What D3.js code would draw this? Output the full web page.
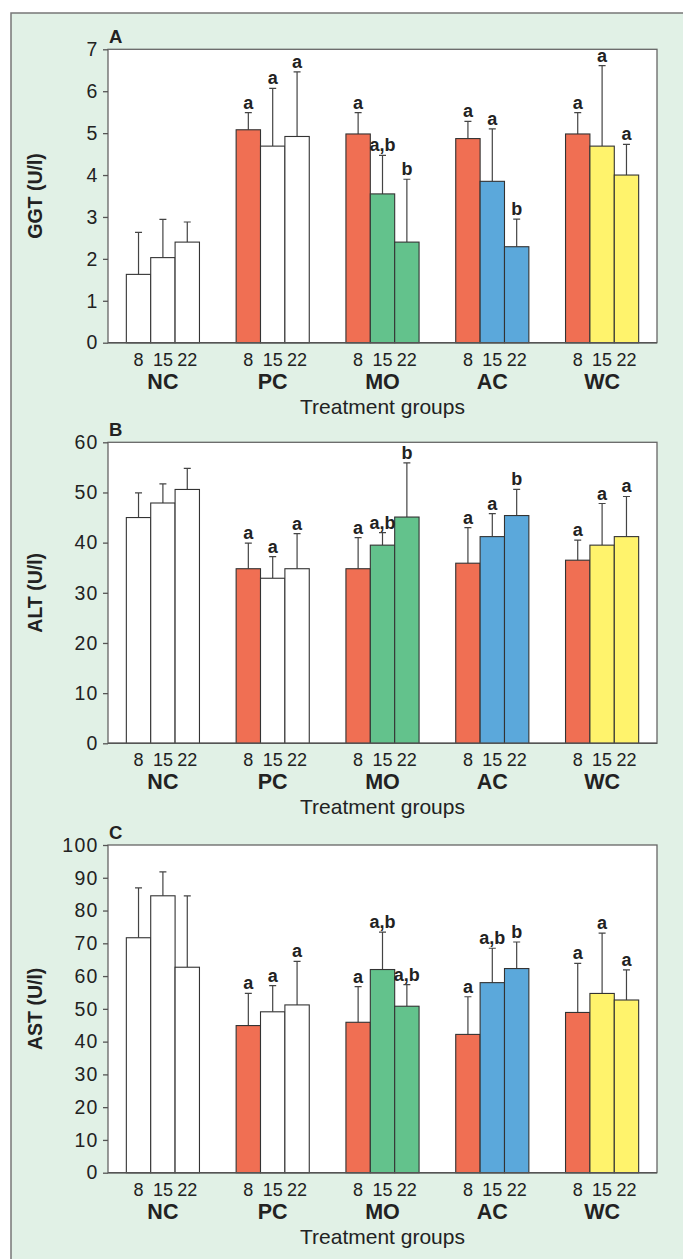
<!DOCTYPE html>
<meta charset="utf-8">
<style>
body { margin: 0; }
svg { font-family: "Liberation Sans", Arial, sans-serif; display: block; }
.axis line { stroke: #555; stroke-width: 1.3; }
.frame { fill: #fff; stroke: #666; stroke-width: 1.3; }
.bar { stroke: #333; stroke-width: 1.1; }
.err { stroke: #444; stroke-width: 1.2; }
.sig { font-size: 18px; font-weight: bold; fill: #222; text-anchor: middle; }
.day { font-size: 18px; fill: #222; text-anchor: middle; }
.grp { font-size: 21.5px; font-weight: bold; fill: #222; text-anchor: middle; }
.xtitle { font-size: 21px; fill: #222; text-anchor: middle; }
.ytitle { font-size: 19.5px; font-weight: bold; fill: #222; text-anchor: middle; }
.letter { font-size: 18.5px; font-weight: bold; fill: #222; }
</style>
<body>
<script src="https://cdn.jsdelivr.net/npm/d3@7"></script>
<script>

var groups = ["NC", "PC", "MO", "AC", "WC"],
    days = ["8", "15", "22"];

// GGT (U/l), panel A
var ggtMean = [[1.63, 2.03, 2.40], [5.08, 4.69, 4.92], [4.98, 3.55, 2.40], [4.87, 3.85, 2.29], [4.98, 4.69, 4.00]];
var ggtTop  = [[2.63, 2.94, 2.88], [5.49, 6.07, 6.46], [5.49, 4.47, 3.90], [5.28, 5.10, 2.95], [5.49, 6.61, 4.73]];
var ggtSig  = [["", "", ""], ["a", "a", "a"], ["a", "a,b", "b"], ["a", "a", "b"], ["a", "a", "a"]];

// ALT (U/l), panel B
var altMean = [[45.0, 47.9, 50.6], [34.8, 32.9, 34.8], [34.8, 39.5, 45.1], [35.9, 41.2, 45.4], [36.5, 39.5, 41.2]];
var altTop  = [[49.9, 51.7, 54.8], [39.9, 37.2, 41.8], [41.0, 42.0, 55.9], [43.0, 45.8, 50.6], [40.5, 47.8, 49.2]];
var altSig  = [["", "", ""], ["a", "a", "a"], ["a", "a,b", "b"], ["a", "a", "b"], ["a", "a", "a"]];

// AST (U/l), panel C
var astMean = [[71.7, 84.5, 62.7], [44.9, 49.1, 51.2], [45.9, 62.0, 50.8], [42.2, 58.0, 62.3], [48.9, 54.7, 52.7]];
var astTop  = [[86.9, 91.8, 84.5], [54.7, 57.1, 64.5], [56.8, 73.4, 57.4], [53.7, 68.5, 70.4], [63.9, 73.1, 61.9]];
var astSig  = [["", "", ""], ["a", "a", "a"], ["a", "a,b", "a,b"], ["a", "a,b", "b"], ["a", "a", "a"]];

var groupColor = { NC: "#ffffff", PC: "#ffffff", MO: "#63c28c", AC: "#5ba8db", WC: "#fff36c" },
    redColor = "#f06f53";

var width = 683, height = 1259,
    left = 108, right = 657;

var svg = d3.select("body").append("svg")
    .attr("width", width)
    .attr("height", height);

// green page background, only top and left edges framed
svg.append("rect")
    .attr("x", 11).attr("y", 13)
    .attr("width", width + 20).attr("height", height + 20)
    .style("fill", "#e1f1e6")
    .style("stroke", "#777")
    .style("stroke-width", 1.5);

var panels = [
  { letter: "A", title: "GGT (U/l)", mean: ggtMean, top: ggtTop, sig: ggtSig, max: 7, step: 1, y0: 49.3, y1: 342.7 },
  { letter: "B", title: "ALT (U/l)", mean: altMean, top: altTop, sig: altSig, max: 60, step: 10, y0: 442.3, y1: 743.3 },
  { letter: "C", title: "AST (U/l)", mean: astMean, top: astTop, sig: astSig, max: 100, step: 10, y0: 845, y1: 1172.7 }
];

var x = d3.scaleBand().domain(groups).range([left, right]).padding(0);
var inner = 0.666 * x.bandwidth();
var xd = d3.scaleBand().domain(days)
    .range([(x.bandwidth() - inner) / 2, (x.bandwidth() + inner) / 2]);

panels.forEach(function(p) {
  var y = d3.scaleLinear().domain([0, p.max]).range([p.y1, p.y0]);
  var g = svg.append("g");

  g.append("rect")
      .attr("class", "frame")
      .attr("x", left)
      .attr("y", p.y0)
      .attr("width", right - left)
      .attr("height", p.y1 - p.y0);

  var ax = g.append("g")
      .attr("class", "axis")
      .attr("font-size", 19.5)
      .attr("font-family", "'Liberation Sans', Arial, sans-serif")
      .attr("transform", "translate(" + left + ",0)")
      .call(d3.axisLeft(y).tickValues(d3.range(0, p.max + 0.001, p.step))
        .tickSize(5).tickPadding(4.5).tickFormat(d3.format("d")));
  ax.attr("font-size", 19.5).attr("font-family", "'Liberation Sans', Arial, sans-serif");
  ax.select(".domain").remove();
  ax.selectAll("text")
      .attr("font-size", 19.5)
      .style("letter-spacing", "1.2px")
      .style("fill", "#222");

  var rows = [];
  groups.forEach(function(grp, i) {
    days.forEach(function(day, j) {
      rows.push({ grp: grp, day: day, j: j, v: p.mean[i][j], top: p.top[i][j], sig: p.sig[i][j] });
    });
  });

  var bx = function(d) { return x(d.grp) + xd(d.day); };

  g.selectAll(".err")
      .data(rows)
    .enter().append("path")
      .attr("class", "err")
      .attr("d", function(d) {
        var cx = bx(d) + xd.bandwidth() / 2;
        return "M" + cx + "," + y(d.v) + "V" + y(d.top) + "M" + (cx - 3.5) + "," + y(d.top) + "H" + (cx + 3.5);
      });

  g.selectAll(".bar")
      .data(rows)
    .enter().append("rect")
      .attr("class", "bar")
      .attr("x", bx)
      .attr("y", function(d) { return y(d.v); })
      .attr("width", xd.bandwidth())
      .attr("height", function(d) { return y(0) - y(d.v); })
      .style("fill", function(d) {
        if (d.j === 0 && d.grp !== "NC") return redColor;
        return groupColor[d.grp];
      });

  g.selectAll(".sig")
      .data(rows.filter(function(d) { return d.sig; }))
    .enter().append("text")
      .attr("class", "sig")
      .attr("x", function(d) { return bx(d) + xd.bandwidth() / 2; })
      .attr("y", function(d) { return y(d.top) - 4; })
      .text(function(d) { return d.sig; });

  // bottom axis line over the bars
  g.append("line")
      .attr("x1", left).attr("x2", right)
      .attr("y1", p.y1).attr("y2", p.y1)
      .style("stroke", "#555").style("stroke-width", 1.4);

  g.selectAll(".day")
      .data(rows)
    .enter().append("text")
      .attr("class", "day")
      .attr("x", function(d) { return bx(d) + xd.bandwidth() / 2; })
      .attr("y", p.y1 + 23)
      .text(function(d) { return d.day; });

  g.selectAll(".grp")
      .data(groups)
    .enter().append("text")
      .attr("class", "grp")
      .attr("x", function(d) { return x(d) + x.bandwidth() / 2; })
      .attr("y", p.y1 + 46)
      .text(function(d) { return d; });

  g.append("text")
      .attr("class", "xtitle")
      .attr("x", (left + right) / 2)
      .attr("y", p.y1 + 71)
      .text("Treatment groups");

  g.append("text")
      .attr("class", "ytitle")
      .attr("transform", "translate(42," + ((p.y0 + p.y1) / 2) + ") rotate(-90)")
      .text(p.title);

  g.append("text")
      .attr("class", "letter")
      .attr("x", 109)
      .attr("y", p.y0 - 6)
      .text(p.letter);
});

</script>
